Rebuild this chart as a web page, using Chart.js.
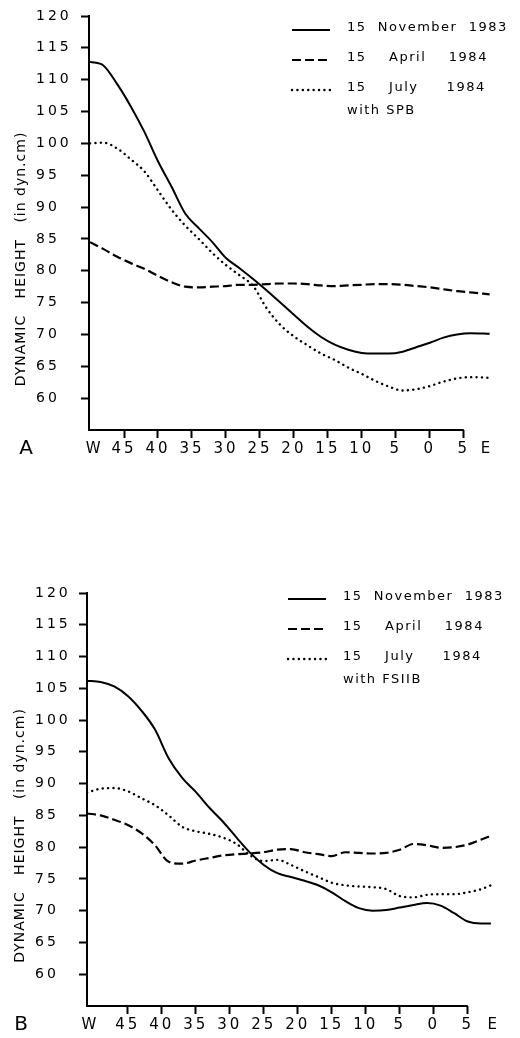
<!DOCTYPE html>
<html lang="en">
<head>
<meta charset="utf-8">
<title>Dynamic height sections, SPB and FSIIB</title>
<script src="https://cdn.jsdelivr.net/npm/chart.js"></script>
<style>
  body { margin: 0; background: #fff; }
  .panel { position: absolute; left: 0; width: 520px; }
  #boxA { top: 0; height: 480px; }
  #boxB { top: 560px; height: 478px; }
</style>
</head>
<body>
<div class="panel" id="boxA"><canvas id="chartA"></canvas></div>
<div class="panel" id="boxB"><canvas id="chartB"></canvas></div>
<script>
// longitude in degrees, negative = west
const lonA = [-50, -48, -46, -44, -42, -40, -38, -36, -34, -32, -30, -28, -26, -24, -22,
              -20, -18, -16, -14, -12, -10, -8, -6, -4, -2, 0, 2, 4, 6, 8.8];
const novA = [112.8, 112.2, 109.3, 105.8, 101.8, 97.2, 93.2, 89.0, 86.7, 84.5, 82.0, 80.4, 78.7, 76.9, 75.0,
              73.1, 71.2, 69.6, 68.4, 67.6, 67.1, 67.0, 67.0, 67.3, 68.0, 68.7, 69.5, 70.0, 70.2, 70.1];
const aprA = [84.5, 83.4, 82.2, 81.2, 80.3, 79.2, 78.2, 77.5, 77.4, 77.5, 77.6, 77.8, 77.8, 77.9, 78.0,
              78.0, 77.9, 77.7, 77.6, 77.7, 77.8, 77.9, 77.9, 77.8, 77.6, 77.4, 77.1, 76.8, 76.6, 76.3];
const julA = [100.0, 100.1, 99.2, 97.5, 95.6, 92.6, 89.6, 87.1, 85.0, 82.8, 80.9, 79.3, 77.6, 74.1, 71.5,
              69.7, 68.3, 67.0, 66.0, 64.8, 63.8, 62.7, 61.8, 61.2, 61.4, 61.9, 62.6, 63.1, 63.3, 63.2];

const lonB = [-51, -49, -47, -45, -43, -41, -39, -37, -35, -33, -31, -29, -27, -25, -23, -21,
              -19, -17, -15, -13, -11, -9, -7, -5, -3, -1, 1, 3, 5, 7, 8.4];
const novB = [106.2, 106.0, 105.3, 103.8, 101.5, 98.5, 94.0, 90.9, 88.7, 86.2, 84.0, 81.5, 79.1, 77.2, 75.9, 75.3,
              74.7, 74.0, 72.9, 71.5, 70.4, 70.0, 70.1, 70.5, 70.9, 71.2, 70.8, 69.6, 68.3, 68.0, 68.0];
const aprB = [85.3, 85.0, 84.3, 83.5, 82.2, 80.3, 77.7, 77.4, 77.9, 78.3, 78.7, 78.9, 79.0, 79.2, 79.6, 79.7,
              79.2, 78.9, 78.6, 79.2, 79.1, 79.0, 79.1, 79.6, 80.5, 80.3, 79.9, 80.0, 80.4, 81.2, 81.8];
const julB = [88.6, 89.2, 89.3, 88.8, 87.7, 86.6, 85.0, 83.2, 82.5, 82.1, 81.5, 80.5, 78.7, 77.8, 78.0, 77.2,
              76.2, 75.3, 74.4, 74.0, 73.8, 73.7, 73.4, 72.3, 72.1, 72.5, 72.6, 72.6, 72.9, 73.4, 74.0];

const seriesLabels = ['15  November  1983', '15    April    1984', '15    July     1984'];
const yTickValues = [60, 65, 70, 75, 80, 85, 90, 95, 100, 105, 110, 115, 120];
const xTickLabels = ['W', '45', '40', '35', '30', '25', '20', '15', '10', '5', '0', '5', 'E'];
const xTickValuesA = [-49.3, -45, -40, -35, -30, -25, -20, -15, -10, -5, 0, 5, 8.4];
const xTickValuesB = [-50.5, -45, -40, -35, -30, -25, -20, -15, -10, -5, 0, 5, 8.8];
const yTitle = 'DYNAMIC   HEIGHT   (in dyn.cm)';

const FONT = '"DejaVu Sans", sans-serif';

// draws the x axis line (stops at 5E), y title, panel letter and legend
const panelDecor = {
  id: 'panelDecor',
  beforeUpdate(chart) { chart.ctx.letterSpacing = '3px'; },
  beforeDraw(chart) { chart.ctx.letterSpacing = '3px'; },
  afterDraw(chart, args, o) {
    const ctx = chart.ctx;
    const area = chart.chartArea;
    const xs = chart.scales.x;
    ctx.save();
    ctx.strokeStyle = '#000';
    ctx.fillStyle = '#000';
    ctx.lineWidth = 2;
    ctx.beginPath();
    ctx.moveTo(area.left - 1, area.bottom);
    ctx.lineTo(xs.getPixelForValue(5), area.bottom);
    ctx.stroke();

    // y title
    ctx.save();
    ctx.letterSpacing = '1px';
    ctx.font = '14px ' + FONT;
    ctx.translate(o.titleX, (area.top + area.bottom) / 2 + o.titleShift);
    ctx.rotate(-Math.PI / 2);
    ctx.textAlign = 'center';
    ctx.textBaseline = 'middle';
    ctx.fillText(yTitle, 0, 0);
    ctx.restore();

    // panel letter
    ctx.letterSpacing = '0px';
    ctx.font = '20px ' + FONT;
    ctx.textAlign = 'center';
    ctx.textBaseline = 'middle';
    ctx.fillText(o.letter, o.letterX, area.bottom + 19);

    // legend
    ctx.letterSpacing = '1.5px';
    ctx.font = '13px ' + FONT;
    ctx.textAlign = 'left';
    chart.data.datasets.forEach((ds, i) => {
      const y = o.legendY + i * o.legendStep;
      ctx.save();
      ctx.lineWidth = ds.borderWidth;
      ctx.lineCap = ds.borderCapStyle || 'butt';
      ctx.setLineDash(ds.borderDash || []);
      ctx.beginPath();
      ctx.moveTo(o.legendX, y + 2);
      ctx.lineTo(o.legendX + 38, y + 2);
      ctx.stroke();
      ctx.restore();
      ctx.fillText(ds.label, o.legendX + 55, y);
    });
    ctx.fillText(o.note, o.legendX + 55, o.legendY + 2 * o.legendStep + 23);
    ctx.restore();
  }
};

function makeSets(lon, nov, apr, jul) {
  const pts = arr => lon.map((x, i) => ({ x: x, y: arr[i] }));
  const base = { borderColor: '#000', pointRadius: 0, fill: false, cubicInterpolationMode: 'monotone' };
  return [
    Object.assign({ label: seriesLabels[0], data: pts(nov), borderWidth: 2 }, base),
    Object.assign({ label: seriesLabels[1], data: pts(apr), borderWidth: 2.2, borderDash: [9, 4] }, base),
    Object.assign({ label: seriesLabels[2], data: pts(jul), borderWidth: 2.4, borderDash: [0.1, 5.3], borderCapStyle: 'round' }, base)
  ];
}

function makeChart(id, sets, xMin, xTicks, pad, yWidth, decor) {
  return new Chart(document.getElementById(id), {
    type: 'line',
    data: { datasets: sets },
    options: {
      responsive: true,
      maintainAspectRatio: false,
      animation: false,
      layout: { padding: pad },
      plugins: { legend: { display: false }, tooltip: { enabled: false }, panelDecor: decor },
      scales: {
        x: {
          type: 'linear',
          min: xMin,
          max: 9,
          border: { display: false },
          grid: {
            drawOnChartArea: false,
            tickLength: 8,
            tickWidth: 2,
            tickColor: c => (c.index === 0 || c.index === xTicks.length - 1) ? 'rgba(0,0,0,0)' : '#000'
          },
          afterBuildTicks: s => { s.ticks = xTicks.map(v => ({ value: v })); },
          afterFit: s => { s.height = 32; },
          ticks: {
            autoSkip: false,
            maxRotation: 0,
            padding: 2,
            color: '#000',
            font: { family: FONT, size: 15 },
            callback: (v, i) => xTickLabels[i]
          }
        },
        y: {
          min: 55,
          max: 120,
          border: { display: true, color: '#000', width: 2 },
          grid: { drawOnChartArea: false, tickLength: 8, tickWidth: 2, tickColor: '#000' },
          afterBuildTicks: s => { s.ticks = yTickValues.map(v => ({ value: v })); },
          afterFit: s => { s.width = yWidth; },
          ticks: {
            crossAlign: 'far',
            color: '#000',
            font: { family: FONT, size: 14 }
          }
        }
      }
    },
    plugins: [panelDecor]
  });
}

makeChart('chartA', makeSets(lonA, novA, aprA, julA), -50.15, xTickValuesA,
  { top: 16, left: 36, right: 29, bottom: 18 }, 53,
  { letter: 'A', letterX: 26, titleX: 21, titleShift: 36, legendX: 292, legendY: 28, legendStep: 30, note: 'with SPB' });

makeChart('chartB', makeSets(lonB, novB, aprB, julB), -51.0, xTickValuesB,
  { top: 33, left: 35, right: 25, bottom: 0 }, 52,
  { letter: 'B', letterX: 21, titleX: 20, titleShift: 36, legendX: 288, legendY: 37, legendStep: 30, note: 'with FSIIB' });
</script>
</body>
</html>
